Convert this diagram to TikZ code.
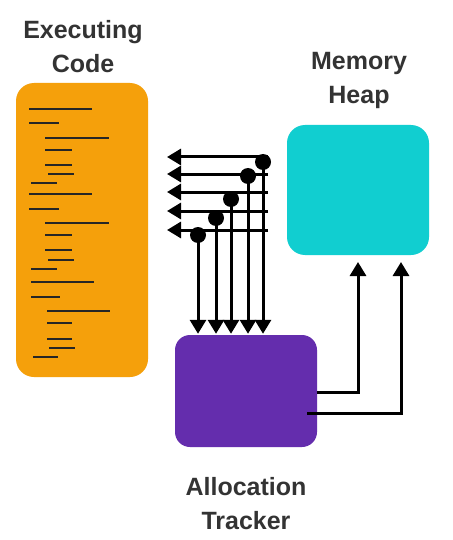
\documentclass[tikz,border=0pt]{standalone}
\usepackage{fontspec}
\setmainfont{Liberation Sans}
\usetikzlibrary{arrows.meta}
\definecolor{codeor}{HTML}{F5A00B}
\definecolor{heapteal}{HTML}{11CED0}
\definecolor{trackpur}{HTML}{642DAD}
\definecolor{labelgray}{HTML}{333333}
\tikzset{
  box/.style={inner sep=0pt, rounded corners=18pt, draw=none},
  lbl/.style={text=labelgray, font=\fontsize{25}{34}\selectfont\bfseries, align=center},
  codeline/.style={line width=2pt, draw=black!85},
  wire/.style={line width=3pt, draw=black},
  tip/.style={-{Triangle[width=16pt,length=14pt]}},
  dotnode/.style={circle, fill=black, inner sep=0pt, minimum size=16pt},
}
\begin{document}
\begin{tikzpicture}[x=1pt,y=-1pt]
\useasboundingbox (0,0) rectangle (452,540);
\fill[white] (0,0) rectangle (452,540);
% boxes
\node[box, fill=codeor, minimum width=132pt, minimum height=294pt] (code) at (82,230) {};
\node[box, fill=heapteal, minimum width=142pt, minimum height=130pt] (heap) at (358,190) {};
\node[box, fill=trackpur, rounded corners=15pt, minimum width=142pt, minimum height=112pt] (tracker) at (246,391) {};
% labels
\node[lbl] (codelbl) at (83,47) {Executing\\Code};
\node[lbl] (heaplbl) at (359,80) {Memory\\Heap};
\node[lbl] (tracklbl) at (246,504) {Allocation\\Tracker};
% code lines
\foreach \y/\a/\b in {109/29/92, 123/29/59, 138/45/109, 150/45/72, 165/45/72, 174/48/74, 183/31/57,
  194/29/92, 209/29/59, 223/45/109, 235/45/72, 250/45/72, 260/48/74, 269/31/57,
  282/31/94, 297/31/60, 311/47/110, 323/47/72, 339/47/72, 348/49/75, 357/33/58}
  \draw[codeline] (\a,\y) -- (\b,\y);
% dots and coordinates
\foreach \i/\x/\y/\hy in {1/198/235/230, 2/216/218/211, 3/231/199/192, 4/248/176/174, 5/263/162/157} {
  \coordinate (r\i) at (268,\hy);
  \coordinate (l\i) at (167,\hy);
  \coordinate (v\i) at (\x,\y);
}
% horizontal arrows
\foreach \i in {1,...,5}
  \draw[wire, tip] (r\i) -- (l\i);
% vertical arrows
\foreach \i in {1,...,5}
  \draw[wire, tip, shorten >=1pt] (v\i) -- (v\i |- tracker.north);
% dots
\foreach \i in {1,...,5}
  \node[dotnode] (d\i) at (v\i) {};
% right connectors
\coordinate (s1) at (tracker.east |- 0,392);
\coordinate (s2) at (307,413);
\coordinate (t1) at (358,262);
\coordinate (t2) at (401,262);
\draw[wire, tip] (s1) -| (t1);
\draw[wire, tip] (s2) -| (t2);
\end{tikzpicture}
\end{document}
